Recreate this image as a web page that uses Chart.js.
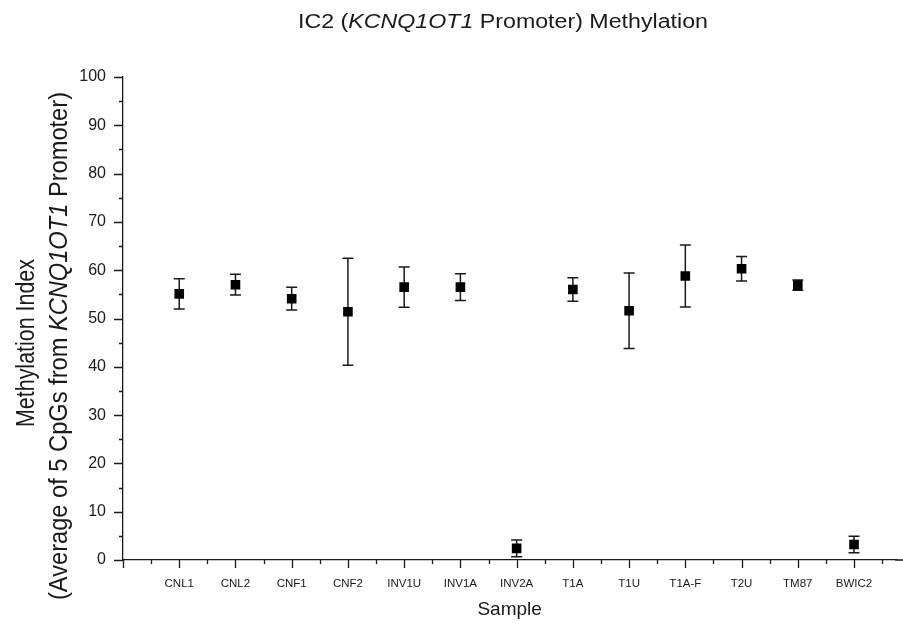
<!DOCTYPE html>
<html>
<head>
<meta charset="utf-8">
<script src="https://cdn.jsdelivr.net/npm/chart.js@4.4.0/dist/chart.umd.min.js"></script>
<style>
  html, body { margin: 0; padding: 0; background: #fff; }
  canvas { display: block; }
</style>
</head>
<body>
<canvas id="methylationChart" width="903" height="628"></canvas>
<script>
const samples = ["CNL1", "CNL2", "CNF1", "CNF2", "INV1U", "INV1A", "INV2A", "T1A", "T1U", "T1A-F", "T2U", "TM87", "BWIC2"];
const methylationMeans = [55.1, 57.0, 54.1, 51.4, 56.5, 56.5, 2.4, 56.0, 51.6, 58.8, 60.3, 56.9, 3.2];
const methylationErrors = [3.15, 2.15, 2.35, 11.1, 4.15, 2.75, 1.75, 2.45, 7.8, 6.4, 2.55, 1.05, 1.7];
const yTicks = [0, 10, 20, 30, 40, 50, 60, 70, 80, 90, 100];

const FONT = "'Liberation Sans', Arial, sans-serif";
const INK = "#1a1a1a";

// one line of normal / italic pieces, centred on 0, baseline at 0 after the transform
function drawRuns(ctx, runs, size, length, stretch) {
  const widths = runs.map((run) => {
    ctx.font = `${run.italic ? "italic " : ""}${size}px ${FONT}`;
    return ctx.measureText(run.text).width;
  });
  const total = widths.reduce((a, b) => a + b, 0);
  ctx.scale(length / total, stretch);
  let x = -total / 2;
  runs.forEach((run, i) => {
    ctx.font = `${run.italic ? "italic " : ""}${size}px ${FONT}`;
    ctx.fillText(run.text, x, 0);
    x += widths[i];
  });
}

const errorBars = {
  id: "errorBars",
  beforeDatasetsDraw(chart) {
    const { ctx, scales: { x, y } } = chart;
    ctx.save();
    ctx.strokeStyle = INK;
    ctx.lineWidth = 1.5;
    methylationMeans.forEach((mean, i) => {
      const px = x.getPixelForValue(i);
      const top = y.getPixelForValue(mean + methylationErrors[i]);
      const bottom = y.getPixelForValue(mean - methylationErrors[i]);
      ctx.beginPath();
      ctx.moveTo(px, top);
      ctx.lineTo(px, bottom);
      ctx.moveTo(px - 5.5, top);
      ctx.lineTo(px + 5.5, top);
      ctx.moveTo(px - 5.5, bottom);
      ctx.lineTo(px + 5.5, bottom);
      ctx.stroke();
    });
    ctx.restore();
  },
};

const axisDecor = {
  id: "axisDecor",
  afterDraw(chart) {
    const { ctx, chartArea, scales: { x, y } } = chart;
    ctx.save();
    ctx.strokeStyle = INK;
    ctx.lineWidth = 1.3;
    ctx.beginPath();
    // the x axis runs on to the right edge of the figure
    ctx.moveTo(chartArea.right - 1, chartArea.bottom);
    ctx.lineTo(chart.width, chartArea.bottom);
    for (let v = -1; v <= 12.5; v += 0.5) {
      const px = Math.round(x.getPixelForValue(v)) + 0.5;
      const len = Number.isInteger(v) ? 8 : 4;
      ctx.moveTo(px, chartArea.bottom);
      ctx.lineTo(px, chartArea.bottom + len);
    }
    for (let v = 0; v <= 100; v += 5) {
      const py = Math.round(y.getPixelForValue(v)) + 0.5;
      const len = v % 10 === 0 ? 9 : 4;
      ctx.moveTo(chartArea.left, py);
      ctx.lineTo(chartArea.left - len, py);
    }
    ctx.stroke();
    ctx.restore();

    ctx.fillStyle = INK;
    ctx.textBaseline = "alphabetic";
    ctx.textAlign = "left";

    ctx.save();
    ctx.translate(503, 27.5);
    drawRuns(ctx, [
      { text: "IC2 (" },
      { text: "KCNQ1OT1", italic: true },
      { text: " Promoter) Methylation" },
    ], 19.5, 410, 1);
    ctx.restore();

    ctx.save();
    ctx.translate(33.5, 343);
    ctx.rotate(-Math.PI / 2);
    drawRuns(ctx, [{ text: "Methylation Index" }], 21.3, 168, 1.2);
    ctx.restore();

    ctx.save();
    ctx.translate(66.5, 346);
    ctx.rotate(-Math.PI / 2);
    drawRuns(ctx, [
      { text: "(Average of 5 CpGs from " },
      { text: "KCNQ1OT1", italic: true },
      { text: " Promoter)" },
    ], 21.3, 508, 1.2);
    ctx.restore();
  },
};

new Chart(document.getElementById("methylationChart"), {
  type: "scatter",
  data: {
    datasets: [{
      label: "Methylation Index",
      data: methylationMeans.map((mean, i) => ({ x: i, y: mean })),
      pointStyle: "rect",
      pointRadius: 6.8,
      pointHoverRadius: 6.8,
      backgroundColor: "#000",
      borderColor: "#000",
      borderWidth: 0,
    }],
  },
  options: {
    responsive: false,
    animation: false,
    devicePixelRatio: 1,
    layout: { padding: { top: 77, right: 0, bottom: 0, left: 0 } },
    plugins: {
      legend: { display: false },
      tooltip: { enabled: false },
    },
    scales: {
      x: {
        type: "linear",
        min: -1,
        max: 12.75,
        afterBuildTicks: (scale) => { scale.ticks = samples.map((_, i) => ({ value: i })); },
        afterFit: (scale) => {
          scale.height = 68;
          scale.paddingLeft = 0;
          scale.paddingRight = 0;
        },
        grid: { display: false, drawTicks: false },
        border: { display: true, color: INK, width: 1.3 },
        ticks: {
          autoSkip: false,
          maxRotation: 0,
          padding: 17,
          color: INK,
          font: { family: FONT, size: 11.5 },
          callback: (value) => samples[value] ?? "",
        },
        title: {
          display: true,
          text: "Sample",
          color: INK,
          font: { family: FONT, size: 19 },
          padding: { top: 0, bottom: 7 },
        },
      },
      y: {
        min: 0,
        max: 100,
        afterFit: (scale) => { scale.width = 123; },
        afterBuildTicks: (scale) => { scale.ticks = yTicks.map((value) => ({ value })); },
        grid: { display: false, drawTicks: false },
        border: { display: true, color: INK, width: 1.3 },
        ticks: {
          padding: 17,
          color: INK,
          font: { family: FONT, size: 16 },
        },
      },
    },
  },
  plugins: [errorBars, axisDecor],
});
</script>
</body>
</html>
